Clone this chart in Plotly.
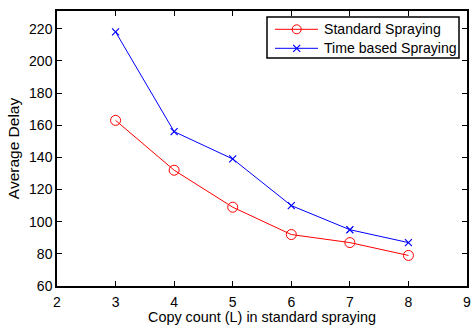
import plotly.graph_objects as go

copy_count = [3, 4, 5, 6, 7, 8]
standard_spraying = [163, 132, 109, 92, 87, 79]
time_based_spraying = [218, 156, 139, 110, 95, 87]
x_ticks = [2, 3, 4, 5, 6, 7, 8, 9]
y_ticks = [60, 80, 100, 120, 140, 160, 180, 200, 220]
series_names = ["Standard Spraying", "Time based Spraying"]
series_colors = ["#ff0000", "#0000ff"]

font = "Liberation Sans, Arial, sans-serif"
W, H = 471, 325
ML, MR, MT, MB = 57, 4, 11, 39
PW, PH = W - ML - MR, H - MT - MB

def px_x(p):
    return (p - ML) / PW

def px_y(p):
    return (H - MB - p) / PH

fig = go.Figure()
fig.add_trace(go.Scatter(
    x=copy_count, y=standard_spraying, name=series_names[0],
    mode="lines+markers",
    line=dict(color=series_colors[0], width=1),
    marker=dict(symbol="circle-open", size=10, color=series_colors[0], line=dict(width=1)),
))
fig.add_trace(go.Scatter(
    x=copy_count, y=time_based_spraying, name=series_names[1],
    mode="lines+markers",
    line=dict(color=series_colors[1], width=1),
    marker=dict(symbol="x-thin-open", size=7, color=series_colors[1],
                line=dict(width=1.2, color=series_colors[1])),
))

axis_common = dict(
    showline=True, linecolor="black", linewidth=1.5, mirror="ticks",
    ticks="inside", ticklen=5, tickcolor="black", tickwidth=1,
    showgrid=False, zeroline=False, automargin=False,
    ticklabeloverflow="allow",
    tickfont=dict(family=font, size=14, color="black"),
)

fig.update_xaxes(range=[2, 9], tickvals=x_ticks, ticklabelstandoff=2,
                 title=dict(text="Copy count (L) in standard spraying", standoff=4,
                            font=dict(family=font, size=14.4, color="black")),
                 **axis_common)
fig.update_yaxes(range=[60, 231], tickvals=y_ticks,
                 title=dict(text="Average Delay", standoff=6,
                            font=dict(family=font, size=15.5, color="black")),
                 **axis_common)

# Custom boxed legend (MATLAB style)
shapes = []
annotations = []
shapes.append(dict(type="rect", xref="paper", yref="paper",
                   x0=px_x(267), x1=px_x(459), y0=px_y(58), y1=px_y(17),
                   line=dict(color="black", width=1.5), fillcolor="white", layer="above"))
rows = [29.3, 48.3]
for i, (name, color) in enumerate(zip(series_names, series_colors)):
    yc = rows[i]
    shapes.append(dict(type="line", xref="paper", yref="paper",
                       x0=px_x(275), x1=px_x(318), y0=px_y(yc), y1=px_y(yc),
                       line=dict(color=color, width=1), layer="above"))
    cx = 296.7
    if i == 0:
        r = 4.5
        shapes.append(dict(type="circle", xref="paper", yref="paper",
                           x0=px_x(cx - r), x1=px_x(cx + r), y0=px_y(yc + r), y1=px_y(yc - r),
                           line=dict(color=color, width=1), fillcolor="rgba(0,0,0,0)", layer="above"))
    else:
        r = 3.5
        for dy in (r, -r):
            shapes.append(dict(type="line", xref="paper", yref="paper",
                               x0=px_x(cx - r), x1=px_x(cx + r), y0=px_y(yc - dy), y1=px_y(yc + dy),
                               line=dict(color=color, width=1.2), layer="above"))
    annotations.append(dict(xref="paper", yref="paper", x=px_x(322), y=px_y(yc),
                            xanchor="left", yanchor="middle", showarrow=False,
                            text=name, font=dict(family=font, size=14.1, color="black")))

fig.update_layout(
    width=W, height=H,
    margin=dict(l=ML, r=MR, t=MT, b=MB),
    paper_bgcolor="white", plot_bgcolor="white",
    showlegend=False,
    shapes=shapes, annotations=annotations,
)

fig.write_html("out.html")
